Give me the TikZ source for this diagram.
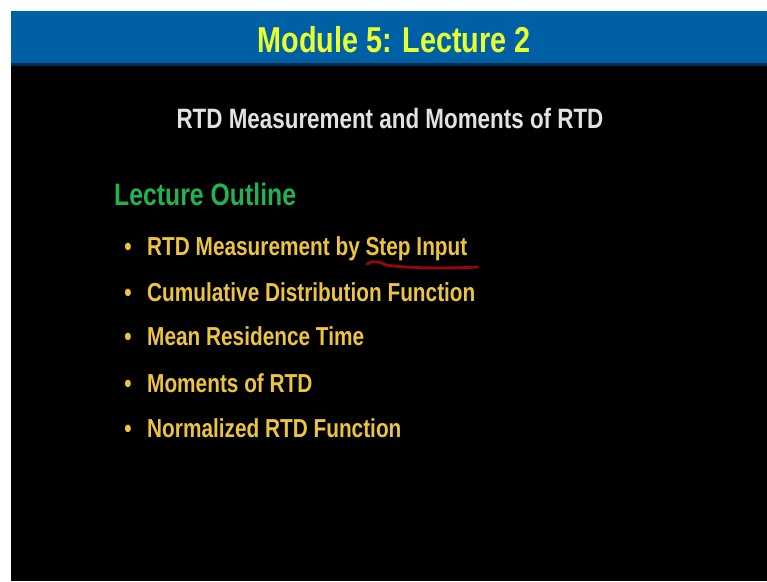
\documentclass[tikz,border=0pt]{standalone}
\usepackage{fontspec}
\setmainfont{Liberation Sans}[FakeStretch=0.8]
\usetikzlibrary{positioning}

\definecolor{bandblue}{RGB}{0,96,166}
\definecolor{titleyellow}{RGB}{232,255,48}
\definecolor{subgray}{RGB}{226,226,230}
\definecolor{headgreen}{RGB}{34,178,80}
\definecolor{itemgold}{RGB}{236,196,62}
\definecolor{markred}{RGB}{150,6,18}

\tikzset{
    slidetext/.style={inner sep=0pt, anchor=base west},
    itemtext/.style={slidetext, text=itemgold, font=\bfseries\fontsize{26}{30}\selectfont},
    bulletdot/.style={inner sep=0pt, anchor=base, text=itemgold, font=\bfseries\fontsize{26}{30}\selectfont},
}

\begin{document}
\begin{tikzpicture}[x=1pt,y=1pt,yscale=-1,xscale=1]
        \useasboundingbox (0,0) rectangle (767,581);

        %Shape: page margin
        \fill [white] (0,0) rectangle (767,581);
        %Shape: slide body
        \fill [black] (11,11) rectangle (767,581);
        %Shape: title band
        \fill [bandblue] (11,11) rectangle (767,64);
        \fill [bandblue!45!black] (11,63) rectangle (767,66);

        % Text Node
        \node (title) [inner sep=0pt, anchor=base, text=titleyellow, font=\bfseries\fontsize{36}{40}\selectfont] at (394,52) {Module 5: Lecture 2};
        % Text Node
        \node (subtitle) [inner sep=0pt, anchor=base, text=subgray, font=\bfseries\fontsize{28}{32}\selectfont] at (390,128) {RTD Measurement and Moments of RTD};
        % Text Node
        \node (outline) [slidetext, text=headgreen, font=\bfseries\fontsize{31}{34}\selectfont] at (114,205) {Lecture Outline};

        % Bullets
        \node (dotA) [bulletdot] at (128,255) {•};
        \node (dotB) [bulletdot] at (128,301) {•};
        \node (dotC) [bulletdot] at (128,345) {•};
        \node (dotD) [bulletdot] at (128,392) {•};
        \node (dotE) [bulletdot] at (128,437) {•};

        % Text Node
        \node (itemA) [itemtext] at (147,255) {RTD Measurement by Step Input};
        % Text Node
        \node (itemB) [itemtext] at (147,301) {Cumulative Distribution Function};
        % Text Node
        \node (itemC) [itemtext] at (147,345) {Mean Residence Time};
        % Text Node
        \node (itemD) [itemtext] at (147,392) {Moments of RTD};
        % Text Node
        \node (itemE) [itemtext] at (147,437) {Normalized RTD Function};

        %Curve: hand underline
        \draw [markred, line width=2.8, line cap=round] (367,264) .. controls (372,260.5) and (378,261) .. (386,265) .. controls (410,268.5) and (450,268.5) .. (478,267);

\end{tikzpicture}
\end{document}
